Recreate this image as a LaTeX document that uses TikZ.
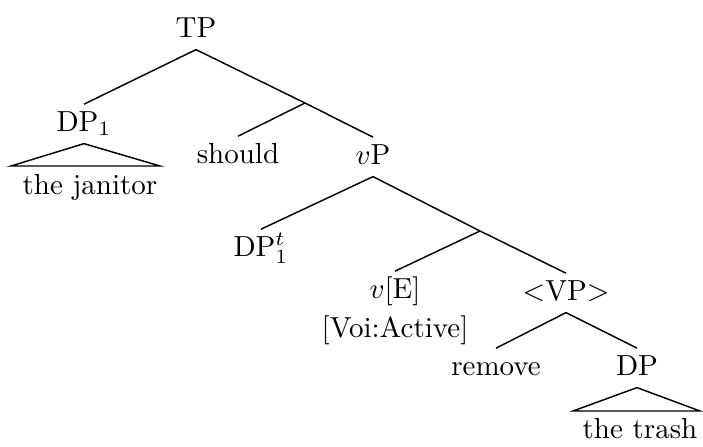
\documentclass[tikz,border=0pt]{standalone}
\usetikzlibrary{calc}
\begin{document}
\begin{tikzpicture}[x=0.3448pt,y=-0.3448pt,
  lab/.style={inner sep=2.2pt, text height=6.8pt, text depth=1.9pt, anchor=base},
  every path/.style={line width=0.5pt}]
\useasboundingbox (0,0) rectangle (703,446);
\node[lab] (TP) at (196,37) {TP};
\node[lab] (DPa) at (84,131) {DP$_1$};
\node[lab] (should) at (238,163) {should};
\node[lab] (vP) at (373,164) {$v$P};
\node[lab] (jan) at (90,194) {the janitor};
\node[lab] (DPt) at (261,256) {DP$^t_1$};
\node[lab] (vE) at (395,298) {$v$[E]};
\node[lab] (voi) at (395,337) {[Voi:Active]};
\node[lab] (VP) at (566,300) {$<$VP$>$};
\node[lab] (remove) at (496,375) {remove};
\node[lab] (DPb) at (637,375) {DP};
\node[lab] (trash) at (640,438) {the trash};
\coordinate (j1) at (305,103);
\coordinate (j2) at (480,231);
\draw (TP.south) -- (DPa.north);
\draw (TP.south) -- (j1) -- (vP.north);
\draw (j1) -- (should.north);
\draw (vP.south) -- (DPt.north);
\draw (vP.south) -- (j2) -- (VP.north);
\draw (j2) -- (vE.north);
\draw (VP.south) -- (remove.north);
\draw (VP.south) -- (DPb.north);
\draw (DPa.south) -- ($(jan.base)+(-79,-28)$) -- ($(jan.base)+(70,-28)$) -- cycle;
\draw (DPb.south) -- ($(trash.base)+(-67,-27)$) -- ($(trash.base)+(60,-27)$) -- cycle;
\end{tikzpicture}
\end{document}
